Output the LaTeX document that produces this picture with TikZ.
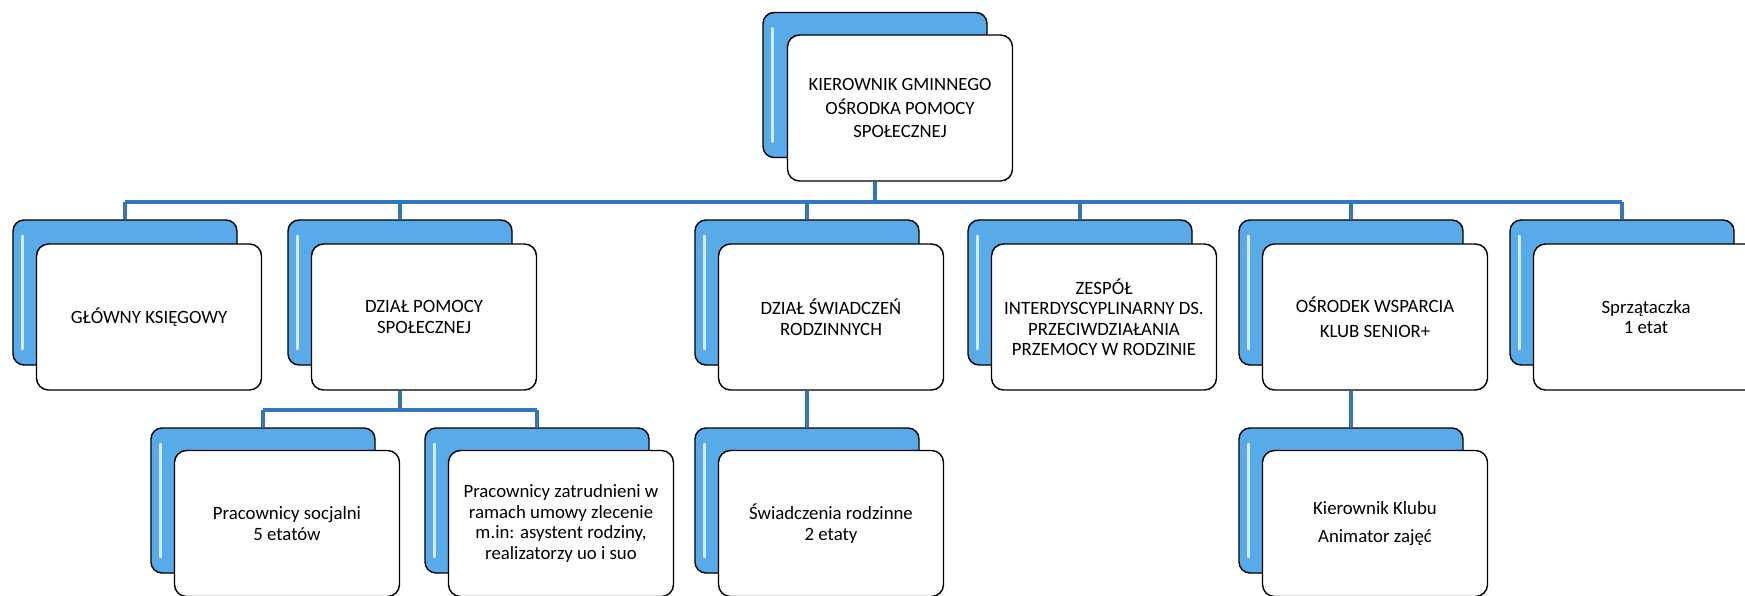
\documentclass[tikz,border=0pt]{standalone}
\usepackage{fontspec}
\setmainfont{Carlito}
\usepackage{tikz}
\usetikzlibrary{calc}

\definecolor{boxblue}{RGB}{88,170,232}
\definecolor{lineblue}{RGB}{52,118,186}
\definecolor{linedark}{RGB}{38,62,98}

\begin{document}
\begin{tikzpicture}[
			x=1pt,y=-1pt,
			back/.style={rectangle,rounded corners=11pt,draw=black,line width=1.4pt,fill=boxblue,
				minimum width=224pt,minimum height=145pt,inner sep=0pt,
				path picture={\draw[white!75!boxblue,line width=3pt,line cap=round]
					([xshift=9pt,yshift=-16pt]path picture bounding box.north west) --
					([xshift=9pt,yshift=16pt]path picture bounding box.south west);}},
			front/.style={rectangle,rounded corners=12pt,draw=black,line width=1.4pt,fill=white,
				minimum width=225pt,minimum height=146pt,inner sep=2pt,align=center,
				font=\fontsize{18.8}{20.5}\selectfont},
			connedge/.style={draw=linedark,line width=4.8pt},
			connfill/.style={draw=lineblue,line width=3.2pt},
			]
			\useasboundingbox (0,0) rectangle (1745,596);
			% kierownik
			\node [back] (topb) at (875,85) {};
			\node [front,font=\fontsize{18.7}{23.5}\selectfont] (topf) at (900,108)
				{KIEROWNIK GMINNEGO\\ OŚRODKA POMOCY\\ SPOŁECZNEJ};
			% first level
			\node [back] (gkb) at (125,292.5) {};
			\node [front] (gkf) at (149,317) {GŁÓWNY KSIĘGOWY};
			\node [back] (dpsb) at (400,292.5) {};
			\node [front] (dpsf) at (424,317) {DZIAŁ POMOCY\\ SPOŁECZNEJ};
			\node [back] (dsrb) at (807,292.5) {};
			\node [front] (dsrf) at (831,317) {DZIAŁ ŚWIADCZEŃ\\ RODZINNYCH};
			\node [back] (zib) at (1080,292.5) {};
			\node [front] (zif) at (1104,317)
				{ZESPÓŁ\\ INTERDYSCYPLINARNY DS.\\ PRZECIWDZIAŁANIA\\ PRZEMOCY W RODZINIE};
			\node [back] (owb) at (1351,292.5) {};
			\node [front] (owf) at (1375,317) {OŚRODEK WSPARCIA\\[5pt] KLUB SENIOR+};
			\node [back] (spb) at (1622,292.5) {};
			\node [front] (spf) at (1646,317) {Sprzątaczka\\ 1 etat};
			% second level
			\node [back] (psb) at (263,500.5) {};
			\node [front] (psf) at (287,523.5) {Pracownicy socjalni\\ 5 etatów};
			\node [back] (pzb) at (537,500.5) {};
			\node [front] (pzf) at (561,523.5)
				{Pracownicy zatrudnieni w\\ ramach umowy zlecenie\\ m.in: asystent rodziny,\\ realizatorzy uo i suo};
			\node [back] (srb) at (807,500.5) {};
			\node [front] (srf) at (831,523.5) {Świadczenia rodzinne\\ 2 etaty};
			\node [back] (kkb) at (1351,500.5) {};
			\node [front] (kkf) at (1375,523.5) {Kierownik Klubu\\[7pt] Animator zajęć};
			\coordinate (bus) at (0,202);
			\coordinate (subbus) at (0,410);
			% connectors, dark edge first and blue core over it
			\foreach \cs in {connedge,connfill} {
				\draw [\cs] (topf.south -| topb) -- (topb |- bus);
				\draw [\cs] (gkb |- bus) -- (spb |- bus);
				\foreach \n in {gkb,dpsb,dsrb,zib,owb,spb}
					\draw [\cs] (\n |- bus) -- (\n.north);
				\draw [\cs] (dpsf.south -| dpsb) -- (dpsb |- subbus);
				\draw [\cs] (psb |- subbus) -- (pzb |- subbus);
				\draw [\cs] (psb |- subbus) -- (psb.north);
				\draw [\cs] (pzb |- subbus) -- (pzb.north);
				\draw [\cs] (dsrf.south -| dsrb) -- (srb.north);
				\draw [\cs] (owf.south -| owb) -- (kkb.north);
			}
		\end{tikzpicture}
\end{document}
